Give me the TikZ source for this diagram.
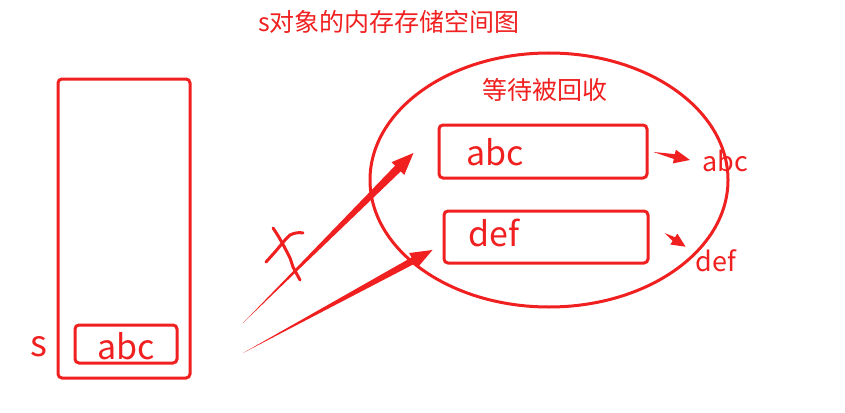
\documentclass[tikz,border=0pt]{standalone}
\usepackage{fontspec}
\setmainfont{Noto Sans CJK SC}
\usepackage{tikz}
\usetikzlibrary{calc,shapes.geometric}
\definecolor{inkred}{RGB}{240,32,32}

% tapered arrow: tail, tip, head length, head half width, shaft half width
\newcommand\wedgearrow[5]{%
	\coordinate (wbase) at ($(#2)!#3!(#1)$);
	\fill[inkred] (#1) -- ($(wbase)!#5!90:(#2)$) -- ($(wbase)!#4!90:(#2)$) -- (#2)
		-- ($(wbase)!#4!-90:(#2)$) -- ($(wbase)!#5!-90:(#2)$) -- cycle;}

\begin{document}
\begin{tikzpicture}[x=1pt, y=-1pt,
	frame/.style={draw=inkred, line width=3pt, rounded corners=4pt, inner sep=0pt},
	word/.style={text=inkred, inner sep=0pt},
	big/.style={word, font=\fontsize{34}{40}\selectfont},
	small/.style={word, font=\fontsize{27}{32}\selectfont}]
	\useasboundingbox (0,0) rectangle (845,412);

	\node [word, font=\fontsize{25}{30}\selectfont] (title) at (389,22) {s对象的内存存储空间图};

	% stack side
	\node [frame, minimum width=132pt, minimum height=299pt] (heap) at (124,228.5) {};
	\node [frame, minimum width=102pt, minimum height=38pt] (slot) at (126,344) {};
	\node [big] (slottxt) at (126,346) {abc};
	\node [word, font=\fontsize{36}{40}\selectfont] (sname) at (38.5,347) {s};

	% garbage pool
	\node [draw=inkred, line width=3pt, ellipse, minimum width=358pt, minimum height=254pt, inner sep=0pt] (pool) at (549,180) {};
	\node [word, font=\fontsize{25}{30}\selectfont] (pooltitle) at (545,90) {等待被回收};
	\node [frame, minimum width=208pt, minimum height=53pt] (boxabc) at (543,151.5) {};
	\node [big] (abctxt) at (495,152) {abc};
	\node [frame, minimum width=204pt, minimum height=52pt] (boxdef) at (546,237) {};
	\node [big] (deftxt) at (494,233) {def};
	\node [small] (abcout) at (725,161) {abc};
	\node [small] (defout) at (716,261) {def};

	% arrow ends
	\coordinate (tailone) at (243,323);
	\coordinate (tipone) at ($(boxabc.west)+(-24,1.5)$);
	\coordinate (tailtwo) at (243,353);
	\coordinate (tiptwo) at ($(boxdef.west)+(-10,13)$);
	\coordinate (outone) at ($(boxabc.east)+(5,0.5)$);
	\coordinate (outonetip) at ($(abcout.west)+(-12,-1)$);
	\coordinate (outtwo) at ($(boxdef.east)+(15,-4)$);
	\coordinate (outtwotip) at ($(defout.north west)+(-10,-3)$);

	\wedgearrow{tailone}{tipone}{22pt}{9pt}{4pt}
	\wedgearrow{tailtwo}{tiptwo}{22pt}{8.5pt}{3.5pt}
	\wedgearrow{outone}{outonetip}{16pt}{7pt}{2.5pt}
	\wedgearrow{outtwo}{outtwotip}{14pt}{6.5pt}{2.2pt}

	% crossed out
	\draw [inkred, line width=3pt, line cap=round, line join=round]
		(273,228) .. controls (280,238) and (286,250) .. (290,258) -- (293,267) -- (300,280);
	\draw [inkred, line width=3pt, line cap=round, line join=round]
		(266,262) -- (275,252) -- (285,240) -- (290,235) .. controls (294,233) and (299,232) .. (303,233);
\end{tikzpicture}
\end{document}
